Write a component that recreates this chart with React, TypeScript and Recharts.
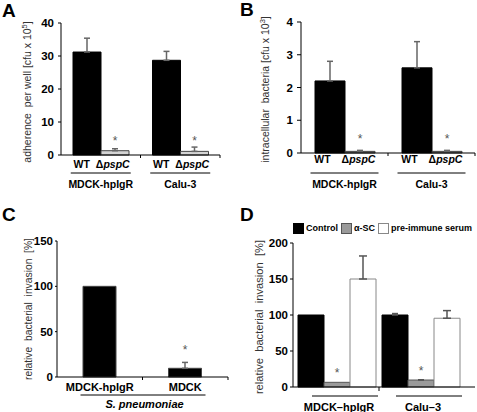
import React from 'react'
import { BarChart, Bar, XAxis, YAxis, ErrorBar, LabelList, Legend } from 'recharts'

const FONT = '"Liberation Sans", Arial, Helvetica, sans-serif'

// A: adherence per well
const adhCells = ['MDCK-hpIgR', 'Calu-3']
const adhStrains = ['WT', 'ΔpspC']
const adhWT = [31.2, 28.7]
const adhWTErr = [4.2, 2.7]
const adhPspC = [1.3, 1.1]
const adhPspCErr = [0.6, 1.3]
const adhStars = ['*', '*']
const adhTicks = [0, 10, 20, 30, 40]

// B: intracellular bacteria
const intCells = ['MDCK-hpIgR', 'Calu-3']
const intWT = [2.2, 2.6]
const intWTErr = [0.6, 0.8]
const intPspC = [0.05, 0.05]
const intPspCErr = [0.03, 0.03]
const intStars = ['*', '*']
const intTicks = [0, 1, 2, 3, 4]

// C: relative invasion, cell lines
const relCells = ['MDCK-hpIgR', 'MDCK']
const relValues = [100, 9.6]
const relErr = [0, 6.5]
const relStars = ['', '*']
const relTicks = [0, 50, 100, 150]

// D: relative invasion with antibodies
const abCells = ['MDCK–hpIgR', 'Calu–3']
const abSeries = ['Control', 'α-SC', 'pre-immune serum']
const abControl = [100, 100]
const abControlErr = [0, 2]
const abSC = [6.5, 9.7]
const abSCErr = [0, 0.4]
const abPre = [150, 95.5]
const abPreErr = [32, 10.6]
const abStars = ['*', '*']
const abTicks = [0, 50, 100, 150, 200]

const up = (e: number) => (e ? [0, e] : null)

const adhData = adhCells.map((cell, i) => ({
  cell, wt: adhWT[i], wtErr: up(adhWTErr[i]), mut: adhPspC[i], mutErr: up(adhPspCErr[i]), star: adhStars[i],
}))
const intData = intCells.map((cell, i) => ({
  cell, wt: intWT[i], wtErr: up(intWTErr[i]), mut: intPspC[i], mutErr: up(intPspCErr[i]), star: intStars[i],
}))
const relData = relCells.map((cell, i) => ({
  cell, value: relValues[i], err: up(relErr[i]), star: relStars[i],
}))
const abData = abCells.map((cell, i) => ({
  cell,
  control: abControl[i], controlErr: up(abControlErr[i]),
  sc: abSC[i], scErr: up(abSCErr[i]),
  pre: abPre[i], preErr: up(abPreErr[i]),
  star: abStars[i],
}))

const tickStyle = { fontSize: 11.5, fontWeight: 'bold', fill: '#000' }

// rotated axis title, baseX = baseline position inside the chart
const yTitle = (content: React.ReactNode, baseX: number, size: number, shift = 0) => (props: any) => {
  const vb = props.viewBox
  const cy = vb.y + vb.height / 2 + shift
  return (
    <text x={baseX} y={cy} transform={`rotate(-90 ${baseX} ${cy})`} textAnchor="middle"
      fontSize={size} fill="#333" fontFamily={FONT} style={{ whiteSpace: 'pre' }}>
      {content}
    </text>
  )
}

const cfu = (exp: string, lead: string) => (
  <>
    <tspan>{lead} [cfu x 10</tspan>
    <tspan dy={-4} fontSize={7.5}>{exp}</tspan>
    <tspan dy={4}>]</tspan>
  </>
)

const star = (dy: number) => (props: any) => {
  const { x, y, width, value } = props
  if (!value) return null
  return (
    <text x={x + width / 2} y={y + dy} textAnchor="middle" fontSize={12} fill="#555" fontFamily={FONT}>
      {value}
    </text>
  )
}

const StrainText = ({ x, y, label }: any) => {
  const mut = label.startsWith('Δ')
  return (
    <text x={x} y={y} textAnchor="middle" fontSize={10.5} fontWeight="bold" fill="#000" fontFamily={FONT}>
      {mut ? <>Δ<tspan fontStyle="italic">{label.slice(1)}</tspan></> : label}
    </text>
  )
}

const PairTick = (props: any) => {
  const { x, y, payload, band, wtDx, mutDx, half, textDy, lineDy, nameDy } = props
  return (
    <g>
      <line x1={x + band / 2} x2={x + band / 2} y1={y} y2={y + 3} stroke="#000" />
      <StrainText x={x + wtDx} y={y + textDy} label={adhStrains[0]} />
      <StrainText x={x + mutDx} y={y + textDy} label={adhStrains[1]} />
      <line x1={x - half} x2={x + half} y1={y + lineDy} y2={y + lineDy} stroke="#000" />
      <text x={x} y={y + nameDy} textAnchor="middle" fontSize={10.5} fontWeight="bold" fill="#000" fontFamily={FONT}>
        {payload.value}
      </text>
    </g>
  )
}

const RelTick = (props: any) => {
  const { x, y, payload } = props
  return (
    <g>
      <line x1={x + 42.75} x2={x + 42.75} y1={y} y2={y + 3} stroke="#000" />
      <text x={x} y={y + 14} textAnchor="middle" fontSize={11} fontWeight="bold" fill="#000" fontFamily={FONT}>
        {payload.value}
      </text>
    </g>
  )
}

const RelXLabel = (props: any) => {
  const vb = props.viewBox
  const cx = vb.x + vb.width / 2
  return (
    <g>
      <line x1={cx - 62} x2={cx + 63} y1={vb.y + 18} y2={vb.y + 18} stroke="#000" />
      <text x={cx + 2} y={vb.y + 31} textAnchor="middle" fontSize={11} fontWeight="bold" fontStyle="italic"
        fill="#000" fontFamily={FONT}>
        S. pneumoniae
      </text>
    </g>
  )
}

const AbTick = (props: any) => {
  const { x, y, payload, index } = props
  return (
    <g>
      {index === 0 && <line x1={x + 42} x2={x + 42} y1={y} y2={y + 4} stroke="#000" />}
      <line x1={x + 8 - 33} x2={x + 8 + 33} y1={y + 9} y2={y + 9} stroke="#000" />
      <text x={x + 2} y={y + 24} textAnchor="middle" fontSize={11} fontWeight="bold" fill="#000" fontFamily={FONT}>
        {payload.value}
      </text>
    </g>
  )
}

const abStrokes = ['#000', '#555', '#888']

const AbLegend = ({ payload }: any) => {
  const items = [...(payload || [])].sort((a: any, b: any) => abSeries.indexOf(a.value) - abSeries.indexOf(b.value))
  return (
    <div style={{ display: 'flex', alignItems: 'center', fontFamily: FONT, fontSize: 9, fontWeight: 'bold',
      whiteSpace: 'nowrap', lineHeight: '12px', color: '#000' }}>
      {items.map((p: any) => (
        <div key={p.value} style={{ display: 'flex', alignItems: 'center', marginRight: 3 }}>
          <div style={{ width: 9, height: 9, background: p.color,
            border: `1px solid ${abStrokes[abSeries.indexOf(p.value)]}`, marginRight: 2 }} />
          {p.value}
        </div>
      ))}
    </div>
  )
}

const letter = (ch: string, left: number, top: number) => (
  <div style={{ position: 'absolute', left, top, fontSize: 19, fontWeight: 'bold', lineHeight: '19px', fontFamily: FONT }}>
    {ch}
  </div>
)

export default function App() {
  return (
    <div style={{ position: 'absolute', left: 0, top: 0, width: 477, height: 412, background: '#fff', fontFamily: FONT }}>
      {letter('A', 2, 1)}
      {letter('B', 240, 0)}
      {letter('C', 2, 205)}
      {letter('D', 240, 205)}

      {/* A */}
      <div style={{ position: 'absolute', left: 0, top: 0 }}>
        <BarChart width={238} height={200} data={adhData} margin={{ top: 23, right: 18, bottom: 0, left: 0 }}
          barGap={0} barSize={28}>
          <XAxis xAxisId="top" orientation="top" height={0} tick={false} tickLine={false} axisLine={{ stroke: '#999' }} />
          <YAxis yAxisId="right" orientation="right" width={0} domain={[0, 40]} tick={false} tickLine={false}
            axisLine={{ stroke: '#999' }} />
          <XAxis dataKey="cell" height={45} tickSize={0} tickMargin={0} tickLine={false} interval={0}
            axisLine={{ stroke: '#000' }}
            tick={<PairTick band={79.5} wtDx={-19} mutDx={12} half={30} textDy={13} lineDy={18} nameDy={33} />} />
          <YAxis width={61} domain={[0, 40]} ticks={adhTicks} tick={tickStyle} tickSize={3} tickMargin={4}
            tickLine={{ stroke: '#000' }} axisLine={{ stroke: '#000' }}
            label={yTitle(cfu('5', 'adherence  per well'), 31, 10.5, 3)} />
          <Bar dataKey="wt" fill="#000" stroke="#000" isAnimationActive={false}>
            <ErrorBar dataKey="wtErr" direction="y" width={3} stroke="#666" isAnimationActive={false} />
          </Bar>
          <Bar dataKey="mut" fill="#d4d4d4" stroke="#444" isAnimationActive={false}>
            <ErrorBar dataKey="mutErr" direction="y" width={3} stroke="#666" isAnimationActive={false} />
            <LabelList dataKey="star" content={star(-6)} />
          </Bar>
        </BarChart>
      </div>

      {/* B */}
      <div style={{ position: 'absolute', left: 238, top: 0 }}>
        <BarChart width={239} height={200} data={intData} margin={{ top: 22, right: 2, bottom: 0, left: 0 }}
          barGap={0} barSize={30}>
          <XAxis xAxisId="top" orientation="top" height={0} tick={false} tickLine={false} axisLine={{ stroke: '#999' }} />
          <YAxis yAxisId="right" orientation="right" width={0} domain={[0, 4]} tick={false} tickLine={false}
            axisLine={{ stroke: '#999' }} />
          <XAxis dataKey="cell" height={47} tickSize={0} tickMargin={0} tickLine={false} interval={0}
            axisLine={{ stroke: '#000' }}
            tick={<PairTick band={87} wtDx={-22} mutDx={14} half={34} textDy={10} lineDy={20} nameDy={35} />} />
          <YAxis width={63} domain={[0, 4]} ticks={intTicks} tick={tickStyle} tickSize={4} tickMargin={4}
            tickLine={{ stroke: '#000' }} axisLine={{ stroke: '#000' }}
            label={yTitle(cfu('3', 'intracellular  bacteria'), 31, 10.5, 2)} />
          <Bar dataKey="wt" fill="#000" stroke="#000" isAnimationActive={false}>
            <ErrorBar dataKey="wtErr" direction="y" width={3} stroke="#666" isAnimationActive={false} />
          </Bar>
          <Bar dataKey="mut" fill="#777" stroke="#444" isAnimationActive={false}>
            <ErrorBar dataKey="mutErr" direction="y" width={3} stroke="#666" isAnimationActive={false} />
            <LabelList dataKey="star" content={star(-8)} />
          </Bar>
        </BarChart>
      </div>

      {/* C */}
      <div style={{ position: 'absolute', left: 0, top: 205 }}>
        <BarChart width={238} height={207} data={relData} margin={{ top: 36, right: 10, bottom: 0, left: 0 }}
          barSize={33}>
          <XAxis xAxisId="top" orientation="top" height={0} tick={false} tickLine={false} axisLine={{ stroke: '#999' }} />
          <YAxis yAxisId="right" orientation="right" width={0} domain={[0, 150]} tick={false} tickLine={false}
            axisLine={{ stroke: '#999' }} />
          <XAxis dataKey="cell" height={35} tickSize={0} tickMargin={0} tickLine={false} interval={0}
            axisLine={{ stroke: '#000' }} tick={<RelTick />} label={RelXLabel} />
          <YAxis width={57} domain={[0, 150]} ticks={relTicks} tick={tickStyle} tickSize={2} tickMargin={2}
            tickLine={{ stroke: '#000' }} axisLine={{ stroke: '#000' }}
            label={yTitle('relative  bacterial  invasion  [%]', 32, 10.3)} />
          <Bar dataKey="value" stroke="#444" isAnimationActive={false}>
            <ErrorBar dataKey="err" direction="y" width={3} stroke="#666" isAnimationActive={false} />
            <LabelList dataKey="star" content={star(-14)} />
          </Bar>
        </BarChart>
      </div>

      {/* D */}
      <div style={{ position: 'absolute', left: 238, top: 205 }}>
        <BarChart width={239} height={207} data={abData} margin={{ top: 38, right: 2, bottom: 0, left: 0 }}
          barGap={0} barSize={26}>
          <XAxis dataKey="cell" height={25} tickSize={0} tickMargin={0} tickLine={false} interval={0}
            padding={{ left: 2, right: 12 }} axisLine={{ stroke: '#000' }} tick={<AbTick />} />
          <YAxis width={55} domain={[0, 200]} ticks={abTicks} tick={tickStyle} tickSize={3} tickMargin={2}
            tickLine={{ stroke: '#000' }} axisLine={{ stroke: '#000' }}
            label={yTitle('relative  bacterial  invasion  [%]', 25, 11.2, 2)} />
          <Legend verticalAlign="middle" layout="horizontal" content={<AbLegend />}
            wrapperStyle={{ top: 17, left: 55, width: 'auto' }} />
          <Bar dataKey="control" name={abSeries[0]} fill="#000" stroke="#000" isAnimationActive={false}>
            <ErrorBar dataKey="controlErr" direction="y" width={3} stroke="#555" isAnimationActive={false} />
          </Bar>
          <Bar dataKey="sc" name={abSeries[1]} fill="#9a9a9a" stroke="#555" isAnimationActive={false}>
            <ErrorBar dataKey="scErr" direction="y" width={3} stroke="#555" isAnimationActive={false} />
            <LabelList dataKey="star" content={star(-5)} />
          </Bar>
          <Bar dataKey="pre" name={abSeries[2]} fill="#fff" stroke="#888" isAnimationActive={false}>
            <ErrorBar dataKey="preErr" direction="y" width={4} stroke="#555" isAnimationActive={false} />
          </Bar>
        </BarChart>
      </div>
    </div>
  )
}
